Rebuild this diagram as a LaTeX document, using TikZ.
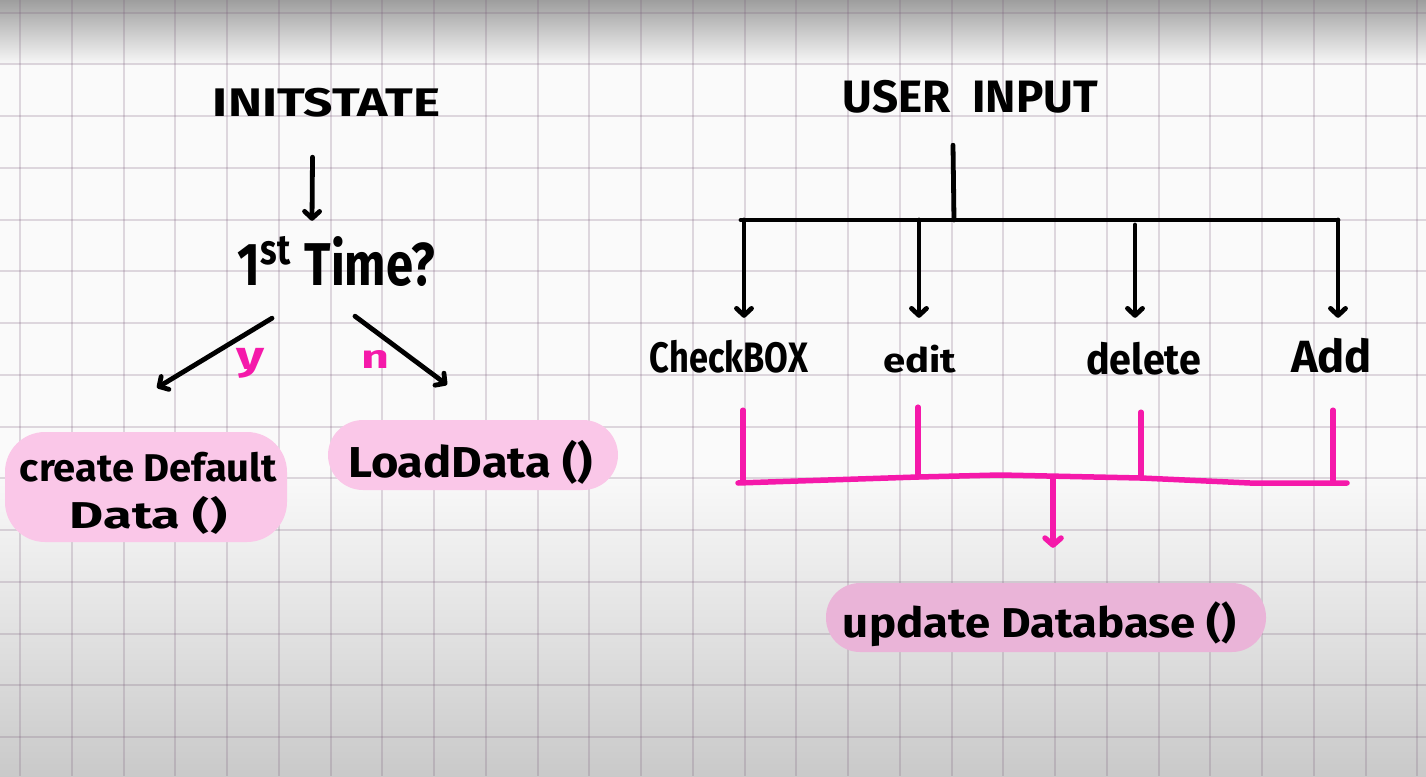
\documentclass[tikz,border=0pt]{standalone}
\usepackage{fontspec}
\usepackage{graphicx}
\setmainfont{Fira Sans}
\usetikzlibrary{arrows.meta,calc}
\definecolor{mag}{RGB}{245,25,170}
\definecolor{blob}{RGB}{250,199,232}
\definecolor{blobb}{RGB}{234,180,216}
\definecolor{gridc}{RGB}{120,90,120}
\newcommand{\hw}[3]{\resizebox*{#1pt}{#2pt}{\bfseries #3}}
\begin{document}
\begin{tikzpicture}[x=1pt,y=-1pt,
  txt/.style={inner sep=0pt,text=black},
  mtxt/.style={inner sep=0pt,text=mag},
  gridline/.style={draw=gridc,opacity=0.22,line width=2pt},
  ln/.style={draw=black,line width=4.8pt,line cap=round,line join=round},
  arr/.style={ln,-{Straight Barb[length=7pt,width=15pt,line cap=round,line join=round]}},
  mg/.style={draw=mag,line width=5.5pt,line cap=round,line join=round},
  magarr/.style={mg,-{Straight Barb[length=7pt,width=16pt,line cap=round,line join=round]}},
  blobfill/.style={fill=blob,rounded corners=36pt}]
\useasboundingbox (0,0) rectangle (1426,776);
% paper background
\fill[black!2] (0,0) rectangle (1426,776);
\shade[top color=black!38,bottom color=black!2] (0,0) rectangle (1426,66);
\shade[top color=black!2,bottom color=black!11] (0,470) rectangle (1426,620);
\shade[top color=black!11,bottom color=black!21] (0,620) rectangle (1426,776);
% grid
\foreach \i in {0,...,27} \draw[gridline] ({20+51.75*\i},0) -- ({20+51.75*\i},776);
\foreach \j in {0,...,14} \draw[gridline] (0,{12.7+51.75*\j}) -- (1426,{12.7+51.75*\j});
% highlight blobs
\fill[blobfill,rounded corners=40pt] (5,432) rectangle (287,542);
\fill[blobfill,rounded corners=35pt] (328,420) rectangle (618,490);
\fill[fill=blobb,rounded corners=34pt] (826,583) rectangle (1266,652);
% left part
\node[txt] (init) at (326.5,102.5) {\hw{227}{29}{INITSTATE}};
\node[txt] (first) at (336.5,261.5) {\hw{197}{51}{1\textsuperscript{st} Time?}};
\node[txt] (cd1) at (148.5,467) {\hw{257}{30}{create Default}};
\node[txt] (cd2) at (148.5,515) {\hw{157}{38}{Data ()}};
\node[txt] (ld) at (470.5,462) {\hw{245}{44}{LoadData ()}};
\node[mtxt] (yes) at (250,363) {\hw{28}{30}{y}};
\node[mtxt] (no) at (375,359) {\hw{28}{18}{n}};
\draw[arr] ($(init.south)+(-14,40)$) -- ($(first.north)+(-24.5,-15)$);
\draw[arr] ($(first.south)+(-64.5,31)$) -- ($(cd1.north)+(8.5,-64)$);
\draw[arr] ($(first.south)+(18.5,29)$) -- ($(ld.north)+(-23.5,-55)$);
% right part
\node[txt] (ui) at (970.5,96.5) {\hw{255}{33}{USER\ \ INPUT}};
\node[txt] (cb) at (729,356.5) {\hw{158}{33}{CheckBOX}};
\node[txt] (ed) at (919.5,359) {\hw{73}{28}{edit}};
\node[txt] (de) at (1143.5,358.5) {\hw{115}{33}{delete}};
\node[txt] (ad) at (1331.5,355.5) {\hw{81}{35}{Add}};
\node[txt] (upd) at (1039.5,624.5) {\hw{393}{45}{update Database ()}};
\coordinate (hub) at (954,220);
\coordinate (busL) at (741,220);
\coordinate (busR) at (1338,220);
\coordinate (t1) at (744,220);
\coordinate (t2) at (919,220);
\coordinate (t3) at (1135,225);
\draw[ln] ($(ui.south)+(-17.5,32)$) -- (hub);
\draw[ln] (busL) -- (busR);
\draw[arr,shorten >=22pt] (t1) -- (t1 |- cb.north);
\draw[arr,shorten >=27pt] (t2) -- (t2 |- ed.north);
\draw[arr,shorten >=24pt] (t3) -- (t3 |- de.north);
\draw[arr,shorten >=20pt] (busR) -- (busR |- ad.north);
% magenta merge
\coordinate (m1) at (743,482);
\coordinate (m2) at (918,477);
\coordinate (m3) at (1141,478);
\coordinate (m4) at (1333,481);
\coordinate (mL) at (738,483);
\coordinate (mR) at (1347,483);
\coordinate (mh) at (1053,477);
\coordinate (mw) at (1000,475);
\coordinate (mv) at (1250,483);
\draw[mg,shorten <=37pt] (m1 |- cb.south) -- (m1);
\draw[mg,shorten <=34pt] (m2 |- ed.south) -- (m2);
\draw[mg,shorten <=37pt] (m3 |- de.south) -- (m3);
\draw[mg,shorten <=37pt] (m4 |- ad.south) -- (m4);
\draw[mg] (mL) -- (m2) -- (mw) -- (m3) -- (mv) -- (mR);
\draw[magarr,shorten >=54pt] (mh) -- (mh |- upd.north);
\end{tikzpicture}
\end{document}
